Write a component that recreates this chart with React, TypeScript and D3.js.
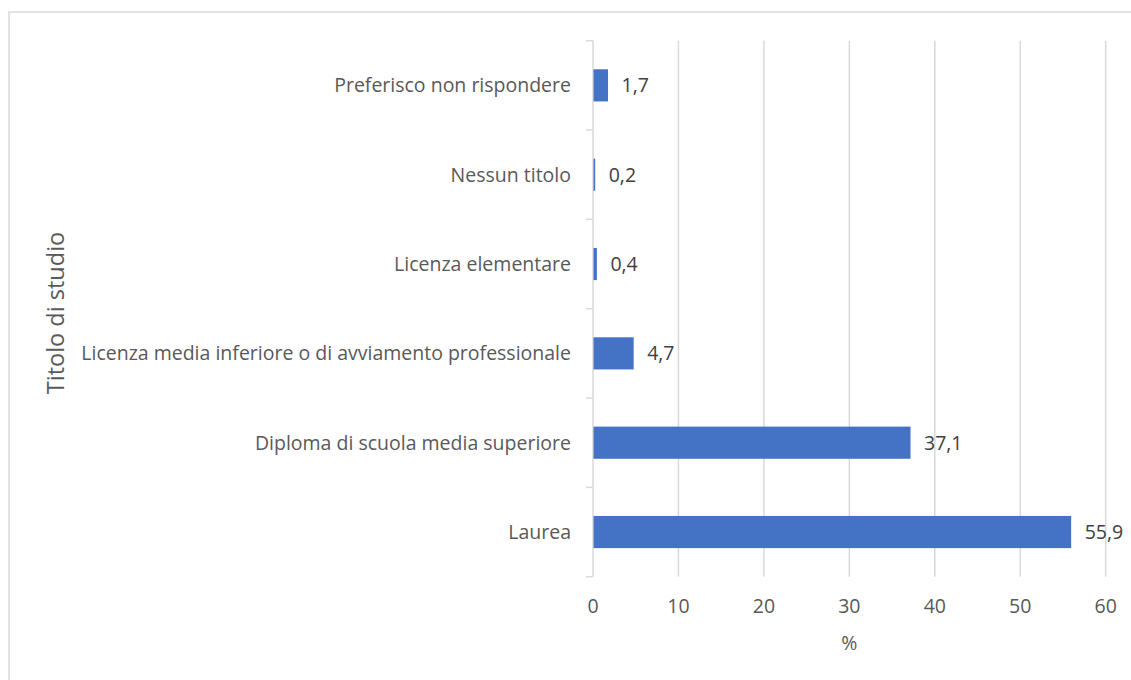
import { useEffect, useRef } from 'react';
import * as d3 from 'd3';

const categories = [
    'Preferisco non rispondere',
    'Nessun titolo',
    'Licenza elementare',
    'Licenza media inferiore o di avviamento professionale',
    'Diploma di scuola media superiore',
    'Laurea',
];
const values = [1.7, 0.2, 0.4, 4.7, 37.1, 55.9];
const xTicks = [0, 10, 20, 30, 40, 50, 60];
const xTitle = '%';
const yTitle = 'Titolo di studio';

const fmt = (v: number) => v.toFixed(1).replace('.', ',');

const App: React.FC = () => {
    const svgRef = useRef<SVGSVGElement | null>(null);

    useEffect(() => {
        if (!svgRef.current) return;
        const svg = d3.select(svgRef.current);
        svg.selectAll('*').remove();

        const width = 1131;
        const height = 680;
        const font = '"Open Sans", sans-serif';
        const fontSize = 19.5;
        const margin = { top: 40.7, right: 25.3, bottom: 103.3, left: 593 };

        // chart border (right and bottom edges fall outside the picture)
        svg.append('rect')
            .attr('x', 9).attr('y', 12)
            .attr('width', 1300).attr('height', 800)
            .attr('fill', 'white')
            .attr('stroke', '#d9d9d9')
            .attr('stroke-width', 1.5);

        const x = d3.scaleLinear()
            .domain([0, 60])
            .range([margin.left, width - margin.right]);

        const y = d3.scaleBand()
            .domain(categories)
            .range([margin.top, height - margin.bottom])
            .paddingInner(0.64)
            .paddingOuter(0.32);

        const top = margin.top;
        const bottom = height - margin.bottom;
        const step = y.step();

        // gridlines
        svg.append('g')
            .selectAll('line')
            .data(xTicks.slice(1))
            .join('line')
            .attr('x1', d => x(d)).attr('x2', d => x(d))
            .attr('y1', top).attr('y2', bottom)
            .attr('stroke', '#d9d9d9')
            .attr('stroke-width', 1.5);

        // vertical axis line + category ticks
        svg.append('line')
            .attr('x1', x(0)).attr('x2', x(0))
            .attr('y1', top).attr('y2', bottom)
            .attr('stroke', '#d9d9d9')
            .attr('stroke-width', 1.5);

        svg.append('g')
            .selectAll('line')
            .data(d3.range(categories.length + 1))
            .join('line')
            .attr('x1', x(0) - 7).attr('x2', x(0))
            .attr('y1', i => top + i * step).attr('y2', i => top + i * step)
            .attr('stroke', '#d9d9d9')
            .attr('stroke-width', 1.5);

        // bars
        svg.append('g')
            .selectAll('rect')
            .data(values)
            .join('rect')
            .attr('x', x(0) + 0.5)
            .attr('y', (d, i) => y(categories[i]) as number)
            .attr('width', d => x(d) - x(0))
            .attr('height', y.bandwidth())
            .attr('fill', '#4472c4');

        // value labels
        svg.append('g')
            .attr('font-family', font)
            .attr('font-size', fontSize)
            .attr('fill', '#404040')
            .selectAll('text')
            .data(values)
            .join('text')
            .attr('x', d => x(d) + 14)
            .attr('y', (d, i) => (y(categories[i]) as number) + y.bandwidth() / 2)
            .attr('dy', '0.35em')
            .text(d => fmt(d));

        // category labels
        svg.append('g')
            .attr('font-family', font)
            .attr('font-size', fontSize)
            .attr('fill', '#595959')
            .attr('text-anchor', 'end')
            .selectAll('text')
            .data(categories)
            .join('text')
            .attr('x', 571)
            .attr('y', d => (y(d) as number) + y.bandwidth() / 2)
            .attr('dy', '0.35em')
            .text(d => d);

        // x tick labels
        svg.append('g')
            .attr('font-family', font)
            .attr('font-size', fontSize)
            .attr('fill', '#595959')
            .attr('text-anchor', 'middle')
            .selectAll('text')
            .data(xTicks)
            .join('text')
            .attr('x', d => x(d))
            .attr('y', 606.5)
            .attr('dy', '0.35em')
            .text(d => d);

        // axis titles
        svg.append('text')
            .attr('font-family', font)
            .attr('font-size', fontSize)
            .attr('fill', '#595959')
            .attr('text-anchor', 'middle')
            .attr('x', (x(0) + x(60)) / 2)
            .attr('y', 643)
            .attr('dy', '0.35em')
            .text(xTitle);

        svg.append('text')
            .attr('font-family', font)
            .attr('font-size', 23.5)
            .attr('fill', '#595959')
            .attr('text-anchor', 'middle')
            .attr('transform', 'translate(56,313) rotate(-90)')
            .attr('dy', '0.35em')
            .text(yTitle);
    }, []);

    return (
        <svg
            ref={svgRef}
            width="1131"
            height="680"
            style={{ position: 'absolute', left: 0, top: 0 }}
        ></svg>
    );
};

export default App;
